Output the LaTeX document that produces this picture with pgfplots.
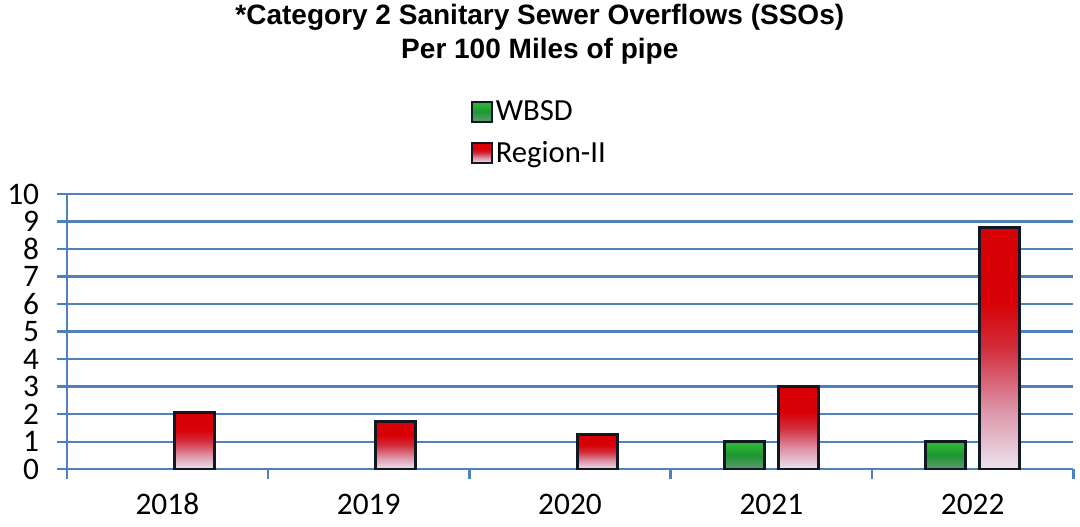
\documentclass[border=0pt]{standalone}
\usepackage{fontspec}
\setmainfont{Carlito}
\newfontfamily\titlefont{Liberation Sans}
\usepackage{pgfplots}
\pgfplotsset{compat=1.18}

\definecolor{gridblue}{RGB}{79,129,189}
\definecolor{edge}{RGB}{16,24,36}
\definecolor{redtop}{RGB}{215,0,5}
\definecolor{redmid}{RGB}{210,45,60}
\definecolor{redpink}{RGB}{222,150,170}
\definecolor{redbot}{RGB}{236,228,238}
\definecolor{greentop}{RGB}{45,180,50}
\definecolor{greenmid}{RGB}{30,150,50}
\definecolor{greenbot}{RGB}{95,155,115}

% path bottom = 25bp, path top = 75bp
\pgfdeclareverticalshading{redbar}{100bp}{color(0bp)=(redbot); color(25bp)=(redbot);
  color(37bp)=(redpink); color(50bp)=(redmid); color(60bp)=(redtop); color(75bp)=(redtop); color(100bp)=(redtop)}
\pgfdeclareverticalshading{greenbar}{100bp}{color(0bp)=(greenbot); color(25bp)=(greenbot);
  color(50bp)=(greenmid); color(70bp)=(greentop); color(100bp)=(greentop)}

\pgfplotsset{
  redstyle/.style={draw=edge, line width=2.25pt, shading=redbar, bar shift=20.25pt},
  greenstyle/.style={draw=edge, line width=2.25pt, shading=greenbar, bar shift=-20.25pt},
}

\begin{document}
\begin{tikzpicture}
\begin{axis}[
    scale only axis,
    width=754.5pt, height=206.25pt,
    xmin=0, xmax=5, ymin=0, ymax=10,
    ybar, bar width=30pt,
    xtick={0,...,5},
    xticklabels={2018,2019,2020,2021,2022},
    x tick label as interval,
    ytick={0,...,10},
    axis lines*=left,
    ymajorgrids,
    major grid style={gridblue, line width=1.8pt},
    axis line style={gridblue, line width=1.8pt},
    tick style={gridblue, line width=1.8pt},
    major tick length=7.5pt,
    tick align=outside,
    /pgf/number format/assume math mode=true,
    tick label style={font=\fontsize{23.5}{28}\selectfont, black},
    yticklabel style={text height=15pt, text depth=0pt, inner sep=1pt, xshift=-12pt},
    xticklabel style={text height=15pt, text depth=0pt, inner sep=1pt, yshift=-10pt},
    title={*Category 2 Sanitary Sewer Overflows (SSOs)\\Per 100 Miles of pipe},
    title style={font=\titlefont\bfseries\fontsize{21}{25}\selectfont, align=center,
        at={(0.47,1)}, anchor=south, yshift=88pt},
    legend style={at={(0.47,1)}, anchor=south, yshift=18pt, draw=none, fill=none,
        font=\fontsize{23}{27}\selectfont, legend columns=1, row sep=10pt},
    legend cell align=left,
    legend image code/.code={\draw[#1, line width=1.5pt] (0pt,-7.5pt) rectangle (15pt,7.5pt);},
]
\addplot[greenstyle] coordinates {(3.5,1.0) (4.5,1.0)};
\addplot[redstyle] coordinates {(0.5,2.05)};
\addplot[redstyle, forget plot] coordinates {(1.5,1.75)};
\addplot[redstyle, forget plot] coordinates {(2.5,1.25)};
\addplot[redstyle, forget plot] coordinates {(3.5,3.0)};
\addplot[redstyle, forget plot] coordinates {(4.5,8.8)};
\legend{WBSD, Region-II}
\end{axis}
\path (current axis.south east) ++(5pt,-43pt);
\path (current axis.south west) ++(-50pt,0pt);
\end{tikzpicture}
\end{document}
